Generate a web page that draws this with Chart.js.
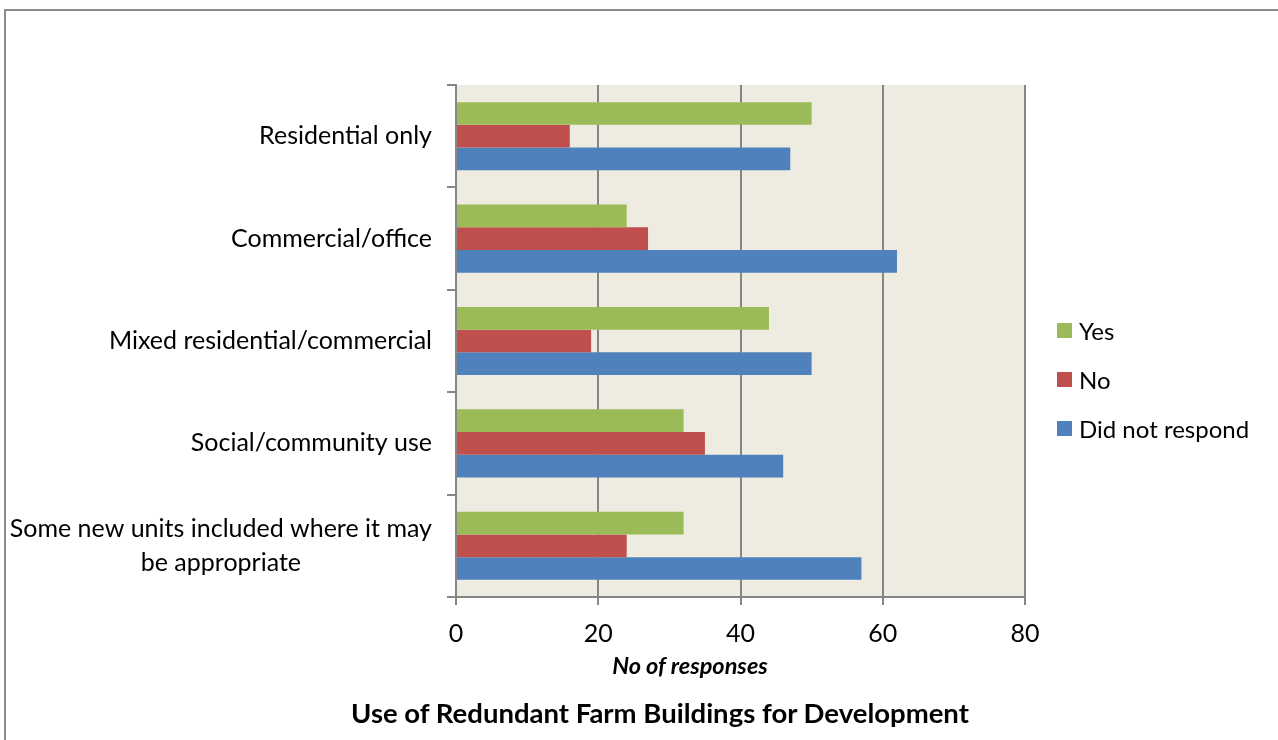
<!DOCTYPE html>
<html>
<head>
<meta charset="utf-8">
<script src="https://cdn.jsdelivr.net/npm/chart.js@4/dist/chart.umd.min.js"></script>
<style>
  body { margin: 0; background: #fff; font-family: Lato, "Open Sans", sans-serif; }
  #wrap { position: relative; width: 1278px; height: 740px; overflow: hidden; }
  #frame { position: absolute; left: 4px; top: 9px; width: 1300px; height: 800px;
           border-left: 2px solid #8c8c8c; border-top: 2px solid #8c8c8c; }
  #chartBox { position: absolute; left: 0; top: 0; width: 1278px; height: 740px; }
  .txt { position: absolute; white-space: nowrap; color: #000; }
  #axisTitle { left: 690px; top: 665px; transform: translate(-50%, -50%);
               font-size: 23.5px; font-weight: bold; font-style: italic; }
  #mainTitle { left: 660px; top: 712px; transform: translate(-50%, -50%);
               font-size: 27.5px; font-weight: bold; }
  #legend { position: absolute; left: 1057px; top: 306px; }
  .item { display: flex; align-items: center; height: 49px; font-size: 24px; }
  .sw { width: 15px; height: 15px; margin-right: 7px; }
</style>
</head>
<body>
<div id="wrap">
  <div id="frame"></div>
  <div id="chartBox"><canvas id="farmChart"></canvas></div>
  <div class="txt" id="axisTitle">No of responses</div>
  <div class="txt" id="mainTitle">Use of Redundant Farm Buildings for Development</div>
  <div id="legend"></div>
</div>
<script>
// categories (top to bottom)
const categories = [
  "Residential only",
  "Commercial/office",
  "Mixed residential/commercial",
  "Social/community use",
  ["Some new units included where it may", "be appropriate"]
];
const seriesNames = ["Yes", "No", "Did not respond"];
const seriesColors = ["#9BBB59", "#C0504D", "#4F81BD"];

const yesValues = [50, 24, 44, 32, 32];
const noValues = [16, 27, 19, 35, 24];
const noResponseValues = [47, 62, 50, 46, 57];

const xTicks = [0, 20, 40, 60, 80];

const labelFont = "25px Lato";
const gridGrey = "#868686";

// plot area background
const plotBg = {
  id: "plotBg",
  beforeDraw(chart) {
    const a = chart.chartArea, ctx = chart.ctx;
    ctx.save();
    ctx.fillStyle = "#EEECE1";
    ctx.fillRect(a.left, a.top, a.right - a.left, a.bottom - a.top);
    ctx.restore();
  }
};

// category labels: right aligned, wrapped lines centred on each other
const catLabels = {
  id: "catLabels",
  afterDraw(chart) {
    const ctx = chart.ctx, sc = chart.scales.y;
    const rightX = sc.right - 24;
    ctx.save();
    ctx.font = labelFont;
    ctx.fillStyle = "#000";
    ctx.textBaseline = "middle";
    categories.forEach((lab, i) => {
      const y = sc.getPixelForTick(i);
      const lines = Array.isArray(lab) ? lab : [lab];
      if (lines.length == 1) {
        ctx.textAlign = "right";
        ctx.fillText(lines[0], rightX, y);
      } else {
        const widest = Math.max(...lines.map(l => ctx.measureText(l).width));
        const cx = rightX - widest / 2;
        const lh = 34;
        ctx.textAlign = "center";
        lines.forEach((l, k) => {
          ctx.fillText(l, cx, y + (k - (lines.length - 1) / 2) * lh);
        });
      }
    });
    ctx.restore();
  }
};

const datasets = [yesValues, noValues, noResponseValues].map((vals, i) => ({
  label: seriesNames[i],
  data: vals,
  backgroundColor: seriesColors[i],
  borderWidth: 0,
  categoryPercentage: 0.665,
  barPercentage: 1.0
}));

const farmChart = new Chart(document.getElementById("farmChart"), {
  type: "bar",
  data: { labels: categories, datasets: datasets },
  plugins: [plotBg, catLabels],
  options: {
    indexAxis: "y",
    responsive: true,
    maintainAspectRatio: false,
    animation: false,
    layout: { padding: { left: 0, top: 85, right: 253, bottom: 93 } },
    plugins: { legend: { display: false }, title: { display: false }, tooltip: { enabled: false } },
    scales: {
      x: {
        min: 0, max: 80,
        afterBuildTicks: s => { s.ticks = xTicks.map(v => ({ value: v })); },
        afterFit: s => { s.height = 50; },
        ticks: { color: "#000", font: { family: "Lato", size: 25 }, padding: 14 },
        grid: { color: gridGrey, lineWidth: 2, tickLength: 8, drawTicks: true },
        border: { color: gridGrey, width: 2 }
      },
      y: {
        afterFit: s => { s.width = 456; },
        ticks: { display: true, color: "rgba(0,0,0,0)", font: { size: 1 } },
        grid: { offset: true, drawOnChartArea: false, color: gridGrey, lineWidth: 2, tickLength: 9 },
        border: { color: gridGrey, width: 2 }
      }
    }
  }
});

// legend from the series arrays
const legendEl = document.getElementById("legend");
seriesNames.forEach((name, i) => {
  const row = document.createElement("div");
  row.className = "item";
  row.innerHTML = '<div class="sw" style="background:' + seriesColors[i] + '"></div><span>' + name + "</span>";
  legendEl.appendChild(row);
});
</script>
</body>
</html>
